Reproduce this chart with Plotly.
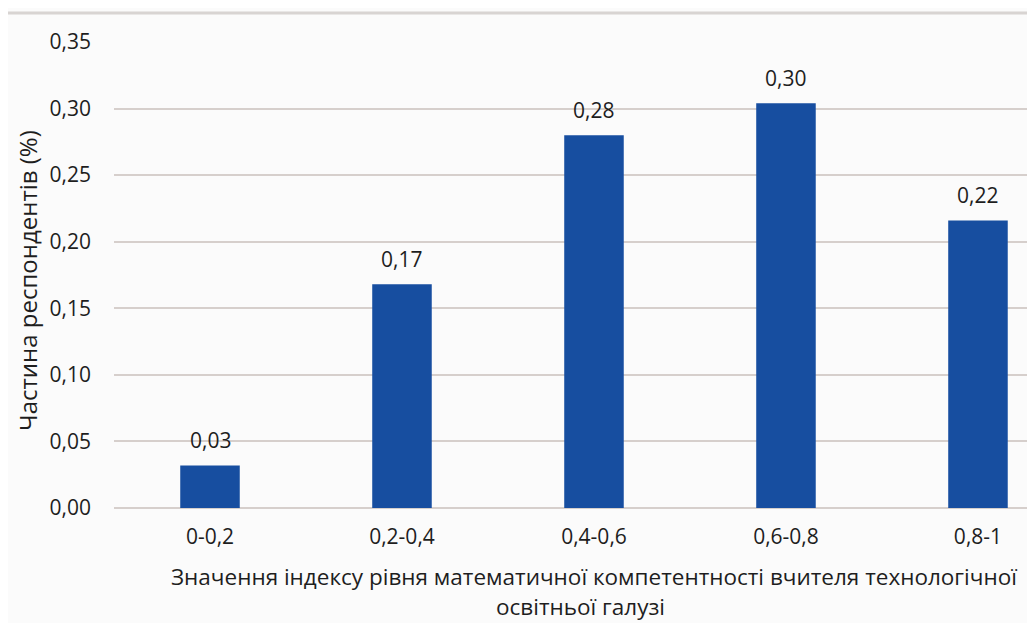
import plotly.graph_objects as go

categories = ["0-0,2", "0,2-0,4", "0,4-0,6", "0,6-0,8", "0,8-1"]
values = [0.032, 0.168, 0.28, 0.304, 0.216]
y_ticks = [0.0, 0.05, 0.10, 0.15, 0.20, 0.25, 0.30, 0.35]
y_title = "Частина респондентів (%)"
x_title_lines = ["Значення індексу рівня математичної компетентності вчителя технологічної",
                 "освітньої галузі"]

FONT = "Open Sans"
TXT = "#1e1e1e"
W, H = 1027, 615
L, T, B = 106, 34, 115
PW = W - L
PH = H - T - B

xs = list(range(len(categories)))

fig = go.Figure(go.Bar(
    x=xs,
    y=values,
    marker=dict(color="#174ea0", line=dict(width=0)),
    width=0.31,
    cliponaxis=False,
))

annotations = [
    dict(x=x, y=v, xref="x", yref="y", text=f"{v:.2f}".replace(".", ","),
         showarrow=False, yanchor="middle", yshift=25,
         font=dict(family=FONT, size=21, color=TXT))
    for x, v in zip(xs, values)
]
# x-axis title as two centred lines (fig coords of line centres)
for line, (cx, cy) in zip(x_title_lines, [(586, 568), (572, 598)]):
    annotations.append(dict(text=line, xref="paper", yref="paper",
                            x=(cx - L) / PW, y=(PH - (cy - T)) / PH,
                            xanchor="center", yanchor="middle", showarrow=False,
                            borderpad=0,
                            font=dict(family=FONT, size=22.5, color=TXT)))
annotations.append(dict(text=y_title, xref="paper", yref="paper",
                        x=(19 - L) / PW, y=(PH - (273 - T)) / PH,
                        xanchor="center", yanchor="middle", showarrow=False,
                        textangle=-90,
                        font=dict(family=FONT, size=24, color=TXT)))

fig.update_layout(
    width=W, height=H,
    margin=dict(l=L, r=0, t=T, b=B, autoexpand=False),
    paper_bgcolor="#fbfbfb",
    plot_bgcolor="#fbfbfb",
    separators=", ",
    showlegend=False,
    font=dict(family=FONT, size=21, color=TXT),
    xaxis=dict(
        tickmode="array",
        tickvals=xs,
        ticktext=categories,
        range=[-0.5, 4.297],
        showgrid=False, zeroline=False, showline=False,
        ticks="", ticklabelstandoff=14,
        tickfont=dict(family=FONT, size=21, color=TXT),
    ),
    yaxis=dict(
        range=[0, 0.35],
        tickvals=y_ticks,
        tickformat=".2f",
        showgrid=True, gridcolor="#d6cfcc", gridwidth=2,
        zeroline=True, zerolinecolor="#d6cfcc", zerolinewidth=2,
        ticks="", ticklabelstandoff=22,
        tickfont=dict(family=FONT, size=21, color=TXT),
    ),
    shapes=[dict(type="line", xref="paper", yref="paper",
                 x0=-0.2, x1=1.0, y0=(PH - (5 - T)) / PH, y1=(PH - (5 - T)) / PH,
                 line=dict(color="#d8d4d2", width=3))],
    annotations=annotations,
)

fig.write_html("out.html")
